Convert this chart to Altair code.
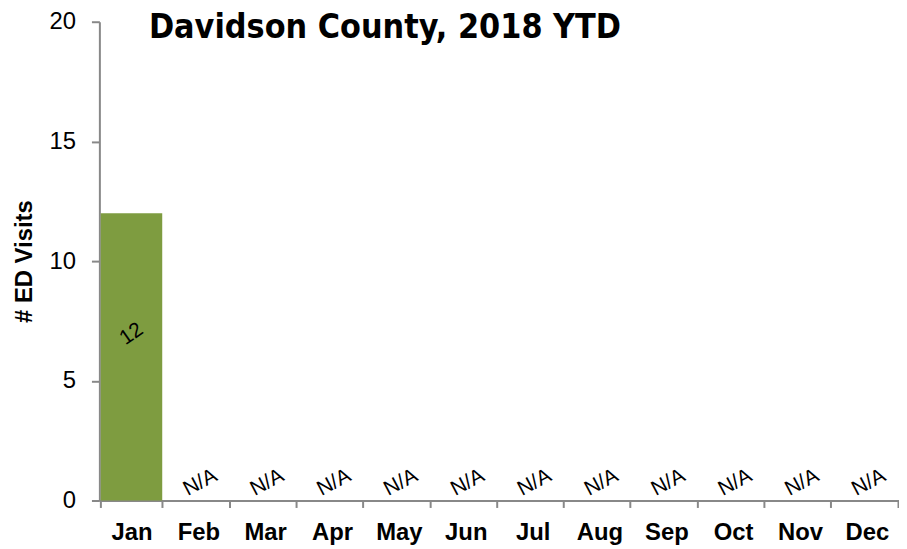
import altair as alt
import pandas as pd

months = ["Jan", "Feb", "Mar", "Apr", "May", "Jun", "Jul", "Aug", "Sep", "Oct", "Nov", "Dec"]
visits = [12, None, None, None, None, None, None, None, None, None, None, None]
labels = ["12", "N/A", "N/A", "N/A", "N/A", "N/A", "N/A", "N/A", "N/A", "N/A", "N/A", "N/A"]
y_ticks = [0, 5, 10, 15, 20]

df = pd.DataFrame({"month": months, "visits": visits, "label": labels})

x = alt.X("month:N", sort=months, title=None,
          scale=alt.Scale(paddingInner=0.08, paddingOuter=0.02),
          axis=alt.Axis(labelAngle=0, labelFont="Liberation Sans", labelFontSize=24,
                        labelFontWeight="bold", labelColor="#000", labelPadding=25,
                        labelBaseline="middle", labelOverlap=False,
                        tickBand="extent", tickSize=7, tickColor="#888", tickWidth=2,
                        domainColor="#888", domainWidth=2))

bars = alt.Chart(df).mark_bar(color="#7e9c40").encode(
    x=x,
    y=alt.Y("visits:Q", title="# ED Visits",
            scale=alt.Scale(domain=[0, 20], nice=False),
            axis=alt.Axis(values=y_ticks, grid=False, labelFont="Liberation Sans",
                          labelFontSize=24, labelColor="#000", labelPadding=16,
                          tickSize=8, tickColor="#888", tickWidth=2,
                          domainColor="#888", domainWidth=2,
                          titleFont="Liberation Sans", titleFontSize=24,
                          titleFontWeight="bold", titleColor="#000", titlePadding=13)),
)

val_text = alt.Chart(df).transform_filter("datum.visits != null").transform_calculate(
    mid="datum.visits / 2"
).mark_text(angle=325, font="Liberation Sans", fontSize=21, color="#000", yOffset=-23).encode(
    x=alt.X("month:N", sort=months),
    y=alt.Y("mid:Q"),
    text="label:N",
)

na_text = alt.Chart(df).transform_filter("datum.visits == null").mark_text(
    angle=332, font="Liberation Sans", fontSize=21, color="#000", yOffset=-18, xOffset=2
).encode(
    x=alt.X("month:N", sort=months),
    y=alt.datum(0),
    text="label:N",
)

chart = alt.layer(bars, val_text, na_text).properties(
    width=805, height=482,
    autosize=alt.AutoSizeParams(type="none"),
    padding={"left": 92, "top": 12, "right": 0, "bottom": 45},
    title=alt.TitleParams(
        "Davidson County, 2018 YTD", anchor="middle", dx=-115, offset=-35,
        font="DejaVu Sans Condensed, sans-serif",
        fontSize=34, fontWeight="bold", color="#000",
    ),
).configure_view(stroke=None)

chart.save("out.html", embed_options={"renderer": "svg", "actions": False})
